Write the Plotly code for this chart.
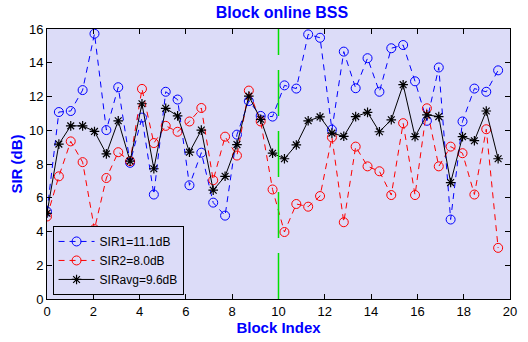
import numpy as np
import plotly.graph_objects as go

# Block positions (39 blocks over 20 units)
n_blocks = 39
block_index = [k * 20.0 / n_blocks for k in range(n_blocks)]

sir1 = [5.18, 11.08, 11.14, 12.38, 15.72, 10.01, 12.55, 8.07, 10.75, 6.19,
        12.28, 11.82, 6.74, 8.67, 5.71, 4.94, 9.74, 11.73, 10.85, 10.81,
        12.66, 12.47, 15.68, 15.48, 10.03, 14.66, 12.49, 14.27, 12.28, 14.86,
        15.05, 12.90, 10.56, 13.72, 4.71, 10.52, 12.47, 12.28, 13.55]

sir2 = [4.89, 7.27, 9.34, 8.11, 4.14, 7.17, 8.70, 8.17, 12.45, 9.24,
        10.26, 9.91, 10.52, 11.32, 7.04, 9.62, 8.50, 12.35, 10.52, 6.49,
        3.97, 5.63, 5.47, 6.10, 9.58, 4.55, 9.03, 7.86, 7.57, 6.16,
        10.42, 6.16, 11.30, 7.86, 9.03, 8.64, 6.19, 10.06, 3.03]

sir_avg = [5.08, 9.18, 10.26, 10.26, 9.93, 8.60, 10.56, 8.17, 11.57, 7.72,
           11.30, 10.85, 8.70, 10.01, 6.45, 7.27, 9.15, 12.02, 10.65, 8.64,
           8.31, 9.13, 10.56, 10.79, 9.83, 9.64, 10.81, 11.06, 9.91, 10.62,
           12.70, 9.62, 10.91, 10.81, 6.90, 9.62, 9.38, 11.14, 8.31]

legend_names = ["SIR1=11.1dB", "SIR2=8.0dB", "SIRavg=9.6dB"]
switch_block = 10
x_ticks = list(range(0, 21, 2))
y_ticks = list(range(0, 17, 2))

FONT = "Arial, Liberation Sans, Helvetica, sans-serif"
BG = "#dcdcf8"

fig = go.Figure()

fig.add_trace(go.Scatter(
    x=block_index, y=sir1, name=legend_names[0], mode="lines+markers",
    line=dict(color="#0000ff", width=1, dash="6px,5px"),
    marker=dict(symbol="circle-open", size=9, color="#0000ff", line=dict(width=1)),
))
fig.add_trace(go.Scatter(
    x=block_index, y=sir2, name=legend_names[1], mode="lines+markers",
    line=dict(color="#ff0000", width=1, dash="6px,5px"),
    marker=dict(symbol="circle-open", size=9, color="#ff0000", line=dict(width=1)),
))
fig.add_trace(go.Scatter(
    x=block_index, y=sir_avg, name=legend_names[2], mode="lines+markers",
    line=dict(color="black", width=1),
    marker=dict(symbol="asterisk-open", size=8, color="black", line=dict(width=1.2, color="black")),
))

# Vertical marker at the switch block
fig.add_shape(type="line", xref="x", yref="y",
              x0=switch_block, x1=switch_block, y0=0, y1=16,
              line=dict(color="#00e000", width=1.5, dash="46px,15px"))

axis_common = dict(
    showgrid=False, zeroline=False, showline=True, linecolor="black", linewidth=1,
    mirror="ticks", ticks="inside", ticklen=5, tickcolor="black",
    tickfont=dict(family=FONT, size=13, color="black"),
)

fig.update_layout(
    width=528, height=342,
    margin=dict(l=47, r=11, t=29, b=39),
    paper_bgcolor="white", plot_bgcolor=BG,
    font=dict(family=FONT, size=12, color="black"),
    title=dict(text="<b>Block online BSS</b>", x=0.534, xanchor="center",
               y=0.963, yanchor="middle",
               font=dict(family=FONT, size=16, color="#0000ff")),
    xaxis=dict(range=[0, 20], tickvals=x_ticks,
               title=dict(text="<b>Block Index</b>", standoff=2,
                          font=dict(family=FONT, size=15, color="#0000ff")),
               **axis_common),
    yaxis=dict(range=[0, 16], tickvals=y_ticks,
               title=dict(text="<b>SIR (dB)</b>", standoff=2,
                          font=dict(family=FONT, size=15, color="#0000ff")),
               **axis_common),
    legend=dict(x=0.012, y=0.015, xanchor="left", yanchor="bottom",
                bgcolor=BG, bordercolor="black", borderwidth=1,
                font=dict(family=FONT, size=12, color="black"),
                tracegroupgap=0, itemwidth=36),
    showlegend=True,
)

fig.write_html("out.html")
